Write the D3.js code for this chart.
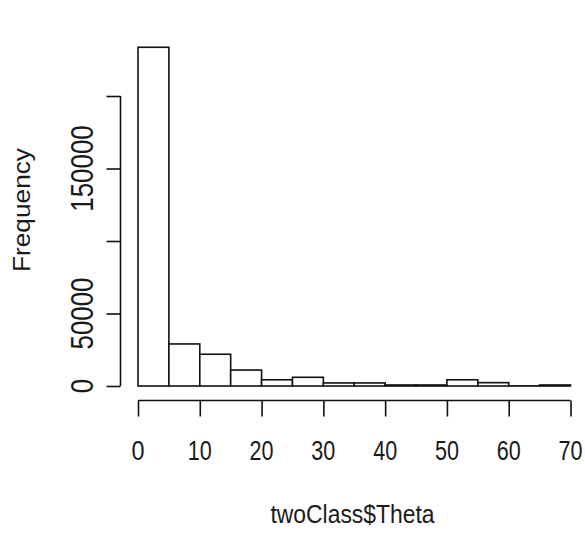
<!DOCTYPE html>
<html>
<head>
<meta charset="utf-8">
<script src="https://cdn.jsdelivr.net/npm/d3@7"></script>
<style>
  html, body { margin: 0; padding: 0; background: #fff; }
  svg { display: block; }
  text { font-family: "Liberation Sans", Arial, sans-serif; fill: #1a1a1a; }
</style>
</head>
<body>
<svg id="chart" width="585" height="536"></svg>
<script>
// Histogram of twoClass$Theta, bins of width 5
const binEdges = [0, 5, 10, 15, 20, 25, 30, 35, 40, 45, 50, 55, 60, 65, 70];
const binCounts = [233600, 29000, 21900, 11000, 4300, 6000, 2100, 2100, 700, 700, 4300, 2300, 100, 700];

const xTicks = [0, 10, 20, 30, 40, 50, 60, 70];
const yTicks = [0, 50000, 100000, 150000, 200000];
const yTickLabels = [0, 50000, 150000]; // labels that fit without overlapping

const xTitle = "twoClass$Theta";
const yTitle = "Frequency";

const svg = d3.select("#chart");

const x = d3.scaleLinear().domain([0, 70]).range([138, 570.5]);
const y = d3.scaleLinear().domain([0, 200000]).range([386, 96]);

const bins = binCounts.map((c, i) => ({ x0: binEdges[i], x1: binEdges[i + 1], count: c }));

// bars
svg.append("g")
  .selectAll("rect")
  .data(bins)
  .join("rect")
  .attr("x", d => x(d.x0))
  .attr("y", d => y(d.count))
  .attr("width", d => x(d.x1) - x(d.x0))
  .attr("height", d => y(0) - y(d.count))
  .attr("fill", "#fff")
  .attr("stroke", "#111")
  .attr("stroke-width", 1.6);

// x axis, detached below the bars
const xAxis = svg.append("g")
  .attr("transform", "translate(0,400.5)")
  .call(d3.axisBottom(x).tickValues(xTicks).tickSize(16).tickFormat(""));
xAxis.select(".domain").attr("d", `M${x(0)},0H${x(70)}`);
xAxis.selectAll("path, line").attr("stroke", "#111").attr("stroke-width", 1.6);

svg.append("g")
  .selectAll("text")
  .data(xTicks)
  .join("text")
  .attr("x", d => x(d))
  .attr("y", 460)
  .attr("text-anchor", "middle")
  .attr("font-size", 28)
  .attr("textLength", d => String(d).length === 1 ? 13 : 24)
  .attr("lengthAdjust", "spacingAndGlyphs")
  .text(d => d);

// y axis
const yAxis = svg.append("g")
  .attr("transform", "translate(120.5,0)")
  .call(d3.axisLeft(y).tickValues(yTicks).tickSize(14).tickFormat(""));
yAxis.select(".domain").attr("d", `M0,${y(0)}V${y(200000)}`);
yAxis.selectAll("path, line").attr("stroke", "#111").attr("stroke-width", 1.6);

svg.append("g")
  .selectAll("text")
  .data(yTickLabels)
  .join("text")
  .attr("transform", d => `translate(92.5,${y(d)}) rotate(-90)`)
  .attr("text-anchor", "middle")
  .attr("font-size", 32)
  .attr("textLength", d => String(d).length * 14.4)
  .attr("lengthAdjust", "spacingAndGlyphs")
  .text(d => d);

// axis titles
svg.append("text")
  .attr("x", 352.5)
  .attr("y", 523)
  .attr("text-anchor", "middle")
  .attr("font-size", 25)
  .attr("textLength", 164)
  .attr("lengthAdjust", "spacingAndGlyphs")
  .text(xTitle);

svg.append("text")
  .attr("transform", "translate(29.5,210) rotate(-90)")
  .attr("text-anchor", "middle")
  .attr("font-size", 23)
  .attr("textLength", 124)
  .attr("lengthAdjust", "spacingAndGlyphs")
  .text(yTitle);
</script>
</body>
</html>
